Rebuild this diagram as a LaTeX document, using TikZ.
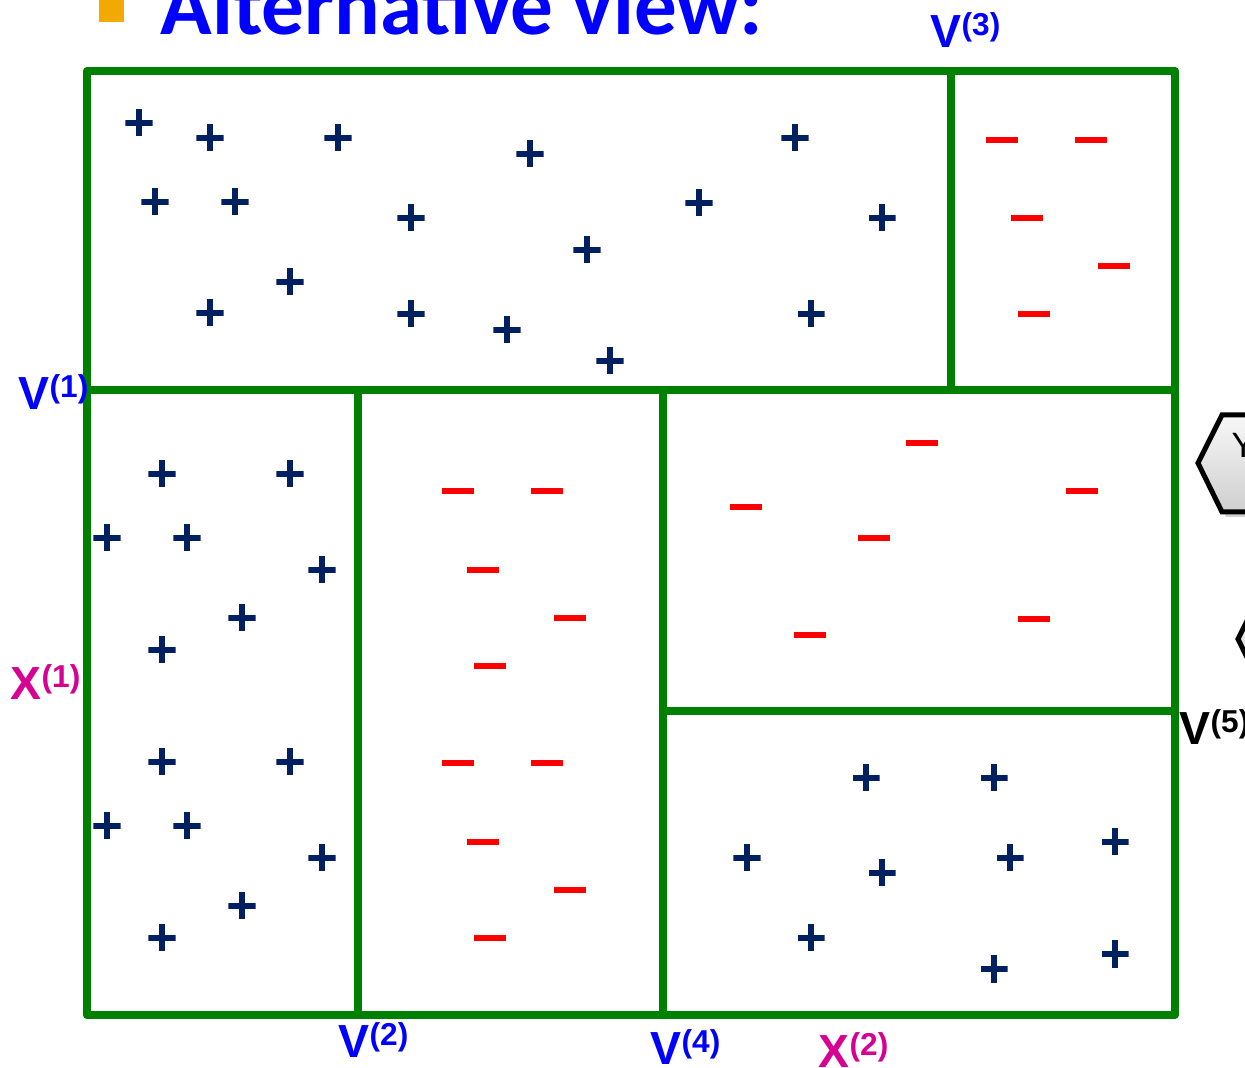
\documentclass[tikz,border=0pt]{standalone}
\usepackage{fontspec}
\setmainfont{Liberation Sans}
\newfontfamily\titlefont{Carlito}
\usetikzlibrary{positioning,calc}
\definecolor{splitgreen}{RGB}{0,128,0}
\definecolor{posnavy}{RGB}{0,32,96}
\definecolor{negred}{RGB}{255,0,0}
\definecolor{lblblue}{RGB}{0,0,255}
\definecolor{lblmagenta}{RGB}{214,0,147}
\definecolor{bulletorange}{RGB}{242,169,0}
\newcommand{\splitlbl}[2]{{\fontsize{13.2}{13.2}\selectfont\bfseries #1}\raisebox{3.6pt}{\fontsize{9}{9}\selectfont\bfseries (#2)}}

\begin{document}
\begin{tikzpicture}[
    x=0.01cm, y=-0.01cm,
    split/.style={draw=splitgreen, line width=0.08cm, line join=round},
    splitshade/.style={draw=black!14, line width=0.08cm, shift={(3,4)}},
    plusmark/.style={minimum size=0.27cm, inner sep=0pt,
      path picture={\draw[posnavy, line width=0.06cm]
        (path picture bounding box.north) -- (path picture bounding box.south)
        (path picture bounding box.west) -- (path picture bounding box.east);}},
    minusmark/.style={fill=negred, minimum width=0.32cm, minimum height=0.06cm, inner sep=0pt},
    lbl/.style={anchor=base west, inner sep=0pt},
    hexa/.style={draw=black, line width=0.05cm, line join=miter, top color=gray!6, bottom color=gray!38}
  ]
  \useasboundingbox (0,0) rectangle (1245,1068);
  \clip (0,0) rectangle (1245,1068);

  % ================= TITLE =================
  \node[fill=bulletorange, minimum width=0.25cm, minimum height=0.35cm, inner sep=0pt,
        anchor=south west] (bullet) at (98,23) {};
  \node[lbl, text=lblblue, font=\titlefont\bfseries\fontsize{24.2}{24.2}\selectfont] (title) at (160,35) {Alternative view:};

  % ================= SPLIT LINES =================
  \coordinate (tl) at (87,71);    \coordinate (tr) at (1175,71);
  \coordinate (bl) at (87,1015);  \coordinate (br) at (1175,1015);
  \coordinate (ml) at (87,390);   \coordinate (mr) at (1175,390);
  \coordinate (v3t) at (951,71);  \coordinate (v3b) at (951,390);
  \coordinate (v2t) at (358,390); \coordinate (v2b) at (358,1015);
  \coordinate (v4t) at (663,390); \coordinate (v4b) at (663,1015);
  \coordinate (v5l) at (663,711); \coordinate (v5r) at (1175,711);

  \draw[splitshade] (ml) -- (mr) (v3t) -- (v3b) (v2t) -- (v2b) (v4t) -- (v4b) (v5l) -- (v5r);
  \draw[split] (tl) rectangle (br);
  \draw[split] (ml) -- (mr);
  \draw[split] (v3t) -- (v3b);
  \draw[split] (v2t) -- (v2b);
  \draw[split] (v4t) -- (v4b);
  \draw[split] (v5l) -- (v5r);

  % ================= LABELS =================
  \node[lbl, text=lblblue] (lblV1) at (18,410) {\splitlbl{V}{1}};
  \node[lbl, text=lblblue] (lblV2) at (338,1058) {\splitlbl{V}{2}};
  \node[lbl, text=lblblue] (lblV3) at (930,48) {\splitlbl{V}{3}};
  \node[lbl, text=lblblue] (lblV4) at (650,1065) {\splitlbl{V}{4}};
  \node[lbl, text=black] (lblV5) at (1179,745) {\splitlbl{V}{5}};
  \node[lbl, text=lblmagenta] (lblX1) at (10,700) {\splitlbl{X}{1}};
  \node[lbl, text=lblmagenta] (lblX2) at (818,1068) {\splitlbl{X}{2}};

  % ================= POSITIVE POINTS =================
  \foreach \px/\py [count=\i] in {139/123, 210/138, 338/138, 530/154, 795/138, 155/202, 235/202,
      411/218, 699/203, 882/218, 587/250, 290/282, 210/313, 411/314, 507/330, 811/314, 610/361,
      162/474, 290/474, 107/538, 187/538, 322/570, 242/618, 162/650,
      162/762, 290/762, 107/826, 187/826, 322/858, 242/906, 162/938,
      866/778, 994/778, 747/858, 882/873, 1010/858, 1115/842, 811/938, 994/969, 1115/954}
    \node[plusmark] (pos\i) at (\px,\py) {};

  % ================= NEGATIVE POINTS =================
  \foreach \px/\py [count=\i] in {1002/140, 1091/140, 1027/218, 1114/266, 1034/314,
      458/491, 547/491, 483/570, 570/618, 490/666, 458/763, 547/763, 483/842, 570/890, 490/938,
      922/443, 746/507, 1082/491, 874/538, 810/635, 1034/619}
    \node[minusmark] (neg\i) at (\px,\py) {};

  % ================= HEXAGONS (cut at the edge) =================
  \fill[black!18] (1202,468) -- (1226,420) -- (1310,420) -- (1334,468) -- (1310,517) -- (1226,517) -- cycle;
  \draw[hexa] (1198,463) -- (1222,415) -- (1306,415) -- (1330,463) -- (1306,512) -- (1222,512) -- cycle;
  \node[lbl, font=\fontsize{10}{10}\selectfont] (hexY) at (1231,458) {Y};
  \fill[black!18] (1242,644) -- (1266,596) -- (1350,596) -- (1374,644) -- (1350,693) -- (1266,693) -- cycle;
  \draw[hexa] (1238,639) -- (1262,591) -- (1346,591) -- (1370,639) -- (1346,688) -- (1262,688) -- cycle;
\end{tikzpicture}
\end{document}
